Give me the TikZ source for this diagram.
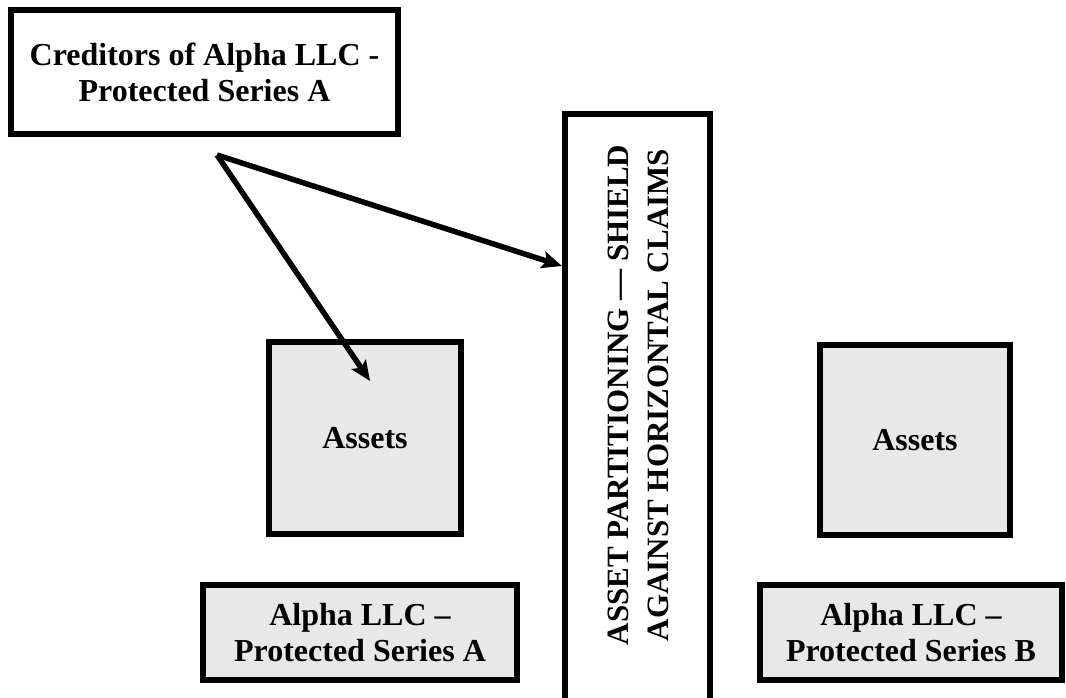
\documentclass[tikz,border=0pt]{standalone}
\usepackage{fontspec}
\setmainfont{Liberation Serif}
\usetikzlibrary{arrows.meta,calc}
\definecolor{boxgray}{HTML}{E8E8E8}
\begin{document}
\begin{tikzpicture}[x=1pt,y=-1pt,
  box/.style={draw=black,line width=6pt,inner sep=0pt,align=center,font=\fontsize{32}{36}\selectfont\bfseries},
  graybox/.style={box,fill=boxgray},
  arr/.style={line width=5.5pt,-{Stealth[length=20pt,width=17pt,inset=4pt]}}]
\useasboundingbox (0,0) rectangle (1066,698);
\clip (0,0) rectangle (1066,698);
\node[box,minimum width=387pt,minimum height=124pt] (cred) at (204.5,72) {Creditors of Alpha LLC -\\Protected Series A};
\node[graybox,minimum width=192pt,minimum height=192pt] (assetsA) at (365,438) {Assets};
\node[graybox,minimum width=190pt,minimum height=190pt] (assetsB) at (915,440) {Assets};
\node[graybox,minimum width=314pt,minimum height=95pt] (seriesA) at (360,632.5) {Alpha LLC --\\Protected Series A};
\node[graybox,minimum width=302pt,minimum height=95pt] (seriesB) at (911,632.5) {Alpha LLC --\\Protected Series B};
\node[draw=black,line width=6pt,inner sep=0pt,minimum width=145pt,minimum height=640pt,anchor=north] (shield) at (637.5,111) {};
\node[rotate=90,align=center,inner sep=0pt,font=\fontsize{31}{40}\selectfont\bfseries] (shieldtxt) at (638,395) {ASSET PARTITIONING --- SHIELD\\AGAINST HORIZONTAL CLAIMS};
\coordinate (src) at (217,155);
\coordinate (hity) at (0,266);
\draw[arr] (src) -- (shield.west |- hity);
\draw[arr] (src) -- ($(assetsA.center)+(5,-57)$);
\end{tikzpicture}
\end{document}
